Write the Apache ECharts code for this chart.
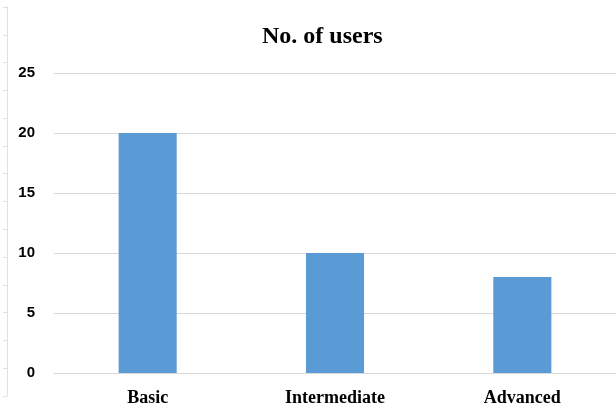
<!DOCTYPE html>
<html>
<head>
<meta charset="utf-8">
<script src="https://cdn.jsdelivr.net/npm/echarts@6/dist/echarts.min.js"></script>
<style>
  html, body { margin: 0; padding: 0; background: #fff; }
  #chart { width: 616px; height: 419px; }
</style>
</head>
<body>
<div id="chart"></div>
<script>
var categories = ['Basic', 'Intermediate', 'Advanced'];
var users = [20, 10, 8];
var yTicks = [0, 5, 10, 15, 20, 25];

var myChart = echarts.init(document.getElementById('chart'));
var option = {
    animation: false,
    title: {
        text: 'No. of users',
        left: 257,
        top: 20,
        textStyle: {
            fontFamily: 'Liberation Serif',
            fontWeight: 'bold',
            fontSize: 24,
            color: '#000'
        }
    },
    grid: [
        { left: 54, right: 0, top: 73, bottom: 46 },
        // faint ruler on the left edge
        { left: 7, width: 1, top: 7, height: 389 }
    ],
    xAxis: [
        {
            type: 'category',
            gridIndex: 0,
            data: categories,
            axisLine: { lineStyle: { color: '#d9d9d9', width: 1 } },
            axisTick: { show: false },
            axisLabel: {
                margin: 16,
                fontFamily: 'Liberation Serif',
                fontWeight: 'bold',
                fontSize: 18,
                color: '#000'
            }
        },
        { type: 'value', gridIndex: 1, show: false }
    ],
    yAxis: [
        {
            type: 'value',
            gridIndex: 0,
            min: yTicks[0],
            max: yTicks[yTicks.length - 1],
            interval: 5,
            axisLine: { show: false },
            axisTick: { show: false },
            splitLine: { lineStyle: { color: '#d9d9d9', width: 1 } },
            axisLabel: {
                margin: 19,
                fontFamily: 'Liberation Sans',
                fontWeight: 'bold',
                fontSize: 15,
                color: '#000'
            }
        },
        {
            type: 'value',
            gridIndex: 1,
            min: 0,
            max: 14,
            interval: 1,
            axisLine: { show: true, lineStyle: { color: '#e0e0e0' } },
            axisTick: { show: true, length: 4, lineStyle: { color: '#e0e0e0' } },
            axisLabel: { show: false },
            splitLine: { show: false }
        }
    ],
    series: [
        {
            type: 'bar',
            xAxisIndex: 0,
            yAxisIndex: 0,
            data: users,
            barWidth: '31%',
            itemStyle: { color: '#5b9bd5' }
        }
    ]
};
myChart.setOption(option);
</script>
</body>
</html>
